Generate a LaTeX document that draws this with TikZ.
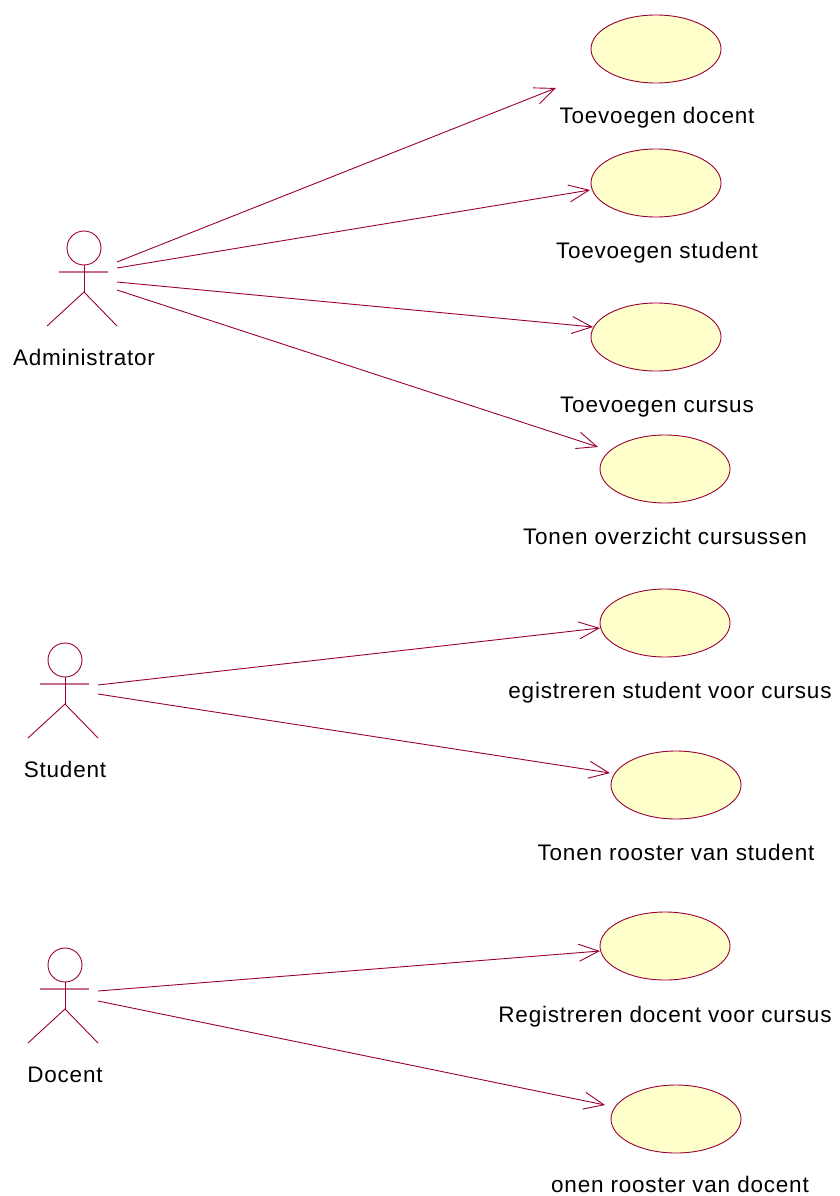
\documentclass[tikz,border=0pt]{standalone}
\usepackage{fontspec}
\setmainfont{Liberation Sans}[LetterSpace=3.5]
\usetikzlibrary{shapes.geometric,arrows.meta}
\definecolor{rosered}{RGB}{153,0,51}
\definecolor{rosepink}{RGB}{200,110,140}
\definecolor{usefill}{RGB}{255,255,204}
\tikzset{
  usecase/.style={ellipse,draw=rosered,fill=usefill,line width=0.9pt,minimum width=130pt,minimum height=68pt,inner sep=0pt},
  uclabel/.style={anchor=base,font=\fontsize{22.5}{26}\selectfont,inner sep=0pt},
  actorline/.style={draw=rosered,line width=0.9pt},
  actorarm/.style={draw=rosepink,line width=1.6pt},
  assoc/.style={draw=rosered,line width=0.9pt,-{Straight Barb[length=20pt,width=17pt]}}
}
\begin{document}
\begin{tikzpicture}[x=1pt,y=-1pt]
\useasboundingbox (0,0) rectangle (840,1196);
% use cases
\node[usecase] (uc1) at (656,49) {};
\node[usecase] (uc2) at (656,183) {};
\node[usecase] (uc3) at (656,337) {};
\node[usecase] (uc4) at (665,469) {};
\node[usecase] (uc5) at (665,623) {};
\node[usecase] (uc6) at (676,785) {};
\node[usecase] (uc7) at (665,946) {};
\node[usecase] (uc8) at (676,1119) {};
\node[uclabel] (l1) at (657,124) {Toevoegen docent};
\node[uclabel] (l2) at (657,258) {Toevoegen student};
\node[uclabel] (l3) at (657,412) {Toevoegen cursus};
\node[uclabel] (l4) at (665,544) {Tonen overzicht cursussen};
\node[uclabel] (l5) at (670,698) {egistreren student voor cursus};
\node[uclabel] (l6) at (676,860) {Tonen rooster van student};
\node[uclabel] (l7) at (665,1022) {Registreren docent voor cursus};
\node[uclabel] (l8) at (680,1192) {onen rooster van docent};
% actors
\foreach \n/\dx/\dy/\lab in {adm/84/0/Administrator, stu/65/412/Student, doc/65/717/Docent}{
  \node[circle,actorline,minimum size=34pt,inner sep=0pt] (\n head) at (\dx,248+\dy) {};
  \coordinate (\n hip) at (\dx,292+\dy);
  \draw[actorarm] (\dx-25,272+\dy) -- (\dx+24,272+\dy);
  \draw[actorline] (\n head.south) -- (\n hip);
  \draw[actorline] (\dx-37,326+\dy) -- (\n hip) -- (\dx+33,326+\dy);
  \node[uclabel] (\n label) at (\dx,365+\dy) {\lab};
}
% connector end points
\coordinate (a1) at (117,262); \coordinate (e1) at (556,88);
\coordinate (a2) at (117,268); \coordinate (e2) at (590,190);
\coordinate (a3) at (117,282); \coordinate (e3) at (593,327);
\coordinate (a4) at (117,290); \coordinate (e4) at (598,447);
\coordinate (s1) at (98,685); \coordinate (e5) at (600,628);
\coordinate (s2) at (98,694); \coordinate (e6) at (610,773);
\coordinate (d1) at (98,991); \coordinate (e7) at (600,951);
\coordinate (d2) at (98,1001); \coordinate (e8) at (605,1105);
\draw[assoc] (a1) -- (e1);
\draw[assoc] (a2) -- (e2);
\draw[assoc] (a3) -- (e3);
\draw[assoc] (a4) -- (e4);
\draw[assoc] (s1) -- (e5);
\draw[assoc] (s2) -- (e6);
\draw[assoc] (d1) -- (e7);
\draw[assoc] (d2) -- (e8);
\end{tikzpicture}
\end{document}
